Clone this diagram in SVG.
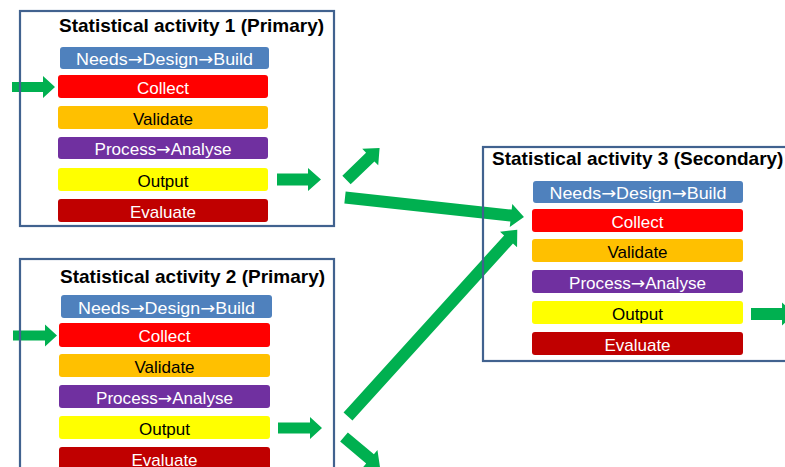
<svg xmlns="http://www.w3.org/2000/svg" width="785" height="467" viewBox="0 0 785 467">
<style>
.frame{fill:none;stroke:#41628f;stroke-width:2.2}
.title{font-family:"Liberation Sans",Arial,sans-serif;font-weight:bold;font-size:19px;fill:#000}
.lbl{font-family:"Liberation Sans",Arial,sans-serif;font-size:17px;text-anchor:middle}
.ar{font-family:"DejaVu Sans",sans-serif;font-size:17px}
.w{fill:#fff}
.k{fill:#000}
.needs{fill:#4f81bd}
.collect{fill:#ff0000}
.validate{fill:#ffc000}
.process{fill:#7030a0}
.output{fill:#ffff00}
.evaluate{fill:#c00000}
.arrow{fill:#00b050}
</style>
<rect width="785" height="467" fill="#fff"/>
<g id="connectors">
  <polygon class="arrow" transform="translate(12,87)" points="0,-5 31,-5 31,-11 43,0 31,11 31,5 0,5"/>
  <polygon class="arrow" transform="translate(13,335.5)" points="0,-5 32,-5 32,-11 44,0 32,11 32,5 0,5"/>
  <polygon class="arrow" transform="translate(277,179.5)" points="0,-6 31,-6 31,-11.5 44,0 31,11.5 31,6 0,6"/>
  <polygon class="arrow" transform="translate(278,428)" points="0,-5.5 32,-5.5 32,-11 44,0 32,11 32,5.5 0,5.5"/>
  <polygon class="arrow" transform="translate(751,314)" points="0,-6 31,-6 31,-11.5 44,0 31,11.5 31,6 0,6"/>
  <polygon class="arrow" transform="translate(346.5,180) rotate(-44)" points="0,-6 33,-6 33,-11.5 46,0 33,11.5 33,6 0,6"/>
  <polygon class="arrow" transform="translate(345,197.5) rotate(6.2)" points="0,-6 167,-6 167,-11.5 180,0 167,11.5 167,6 0,6"/>
  <polygon class="arrow" transform="translate(348,416.5) rotate(-47.8)" points="0,-6 239,-6 239,-11.5 252,0 239,11.5 239,6 0,6"/>
  <polygon class="arrow" transform="translate(344,437) rotate(40)" points="0,-6 34,-6 34,-11.5 47,0 34,11.5 34,6 0,6"/>
</g>
<g id="activity1">
  <rect class="frame" x="20" y="11" width="314" height="215"/>
  <text class="title" x="59" y="32">Statistical activity 1 (Primary)</text>
  <rect class="needs" x="60" y="47" width="209" height="22" rx="3"/>
  <text class="lbl w" x="164.5" y="65" textLength="177" lengthAdjust="spacingAndGlyphs">Needs<tspan class="ar">→</tspan>Design<tspan class="ar">→</tspan>Build</text>
  <rect class="collect" x="58" y="75" width="210" height="23" rx="3"/>
  <text class="lbl w" x="163" y="94">Collect</text>
  <rect class="validate" x="58" y="106" width="210" height="23" rx="3"/>
  <text class="lbl k" x="163" y="124.5">Validate</text>
  <rect class="process" x="58" y="137" width="210" height="22" rx="3"/>
  <text class="lbl w" x="163" y="155" textLength="137" lengthAdjust="spacingAndGlyphs">Process<tspan class="ar">→</tspan>Analyse</text>
  <rect class="output" x="58" y="168" width="210" height="23" rx="3"/>
  <text class="lbl k" x="163" y="186.5">Output</text>
  <rect class="evaluate" x="58" y="199" width="210" height="23" rx="3"/>
  <text class="lbl w" x="163" y="217.5">Evaluate</text>
</g>
<g id="activity2">
  <rect class="frame" x="20" y="259" width="314" height="240"/>
  <text class="title" x="60" y="283">Statistical activity 2 (Primary)</text>
  <rect class="needs" x="61" y="295" width="211" height="23" rx="3"/>
  <text class="lbl w" x="166.5" y="313.5" textLength="177" lengthAdjust="spacingAndGlyphs">Needs<tspan class="ar">→</tspan>Design<tspan class="ar">→</tspan>Build</text>
  <rect class="collect" x="59" y="323" width="211" height="24" rx="3"/>
  <text class="lbl w" x="164.5" y="342">Collect</text>
  <rect class="validate" x="59" y="354" width="211" height="23" rx="3"/>
  <text class="lbl k" x="164.5" y="372.5">Validate</text>
  <rect class="process" x="59" y="385" width="211" height="23" rx="3"/>
  <text class="lbl w" x="164.5" y="403.5" textLength="137" lengthAdjust="spacingAndGlyphs">Process<tspan class="ar">→</tspan>Analyse</text>
  <rect class="output" x="59" y="416" width="211" height="23" rx="3"/>
  <text class="lbl k" x="164.5" y="434.5">Output</text>
  <rect class="evaluate" x="59" y="447" width="211" height="24" rx="3"/>
  <text class="lbl w" x="164.5" y="465.5">Evaluate</text>
</g>
<g id="activity3">
  <rect class="frame" x="483" y="147" width="330" height="214"/>
  <text class="title" x="492" y="165">Statistical activity 3 (Secondary)</text>
  <rect class="needs" x="533" y="181" width="210" height="22" rx="3"/>
  <text class="lbl w" x="638" y="199" textLength="177" lengthAdjust="spacingAndGlyphs">Needs<tspan class="ar">→</tspan>Design<tspan class="ar">→</tspan>Build</text>
  <rect class="collect" x="532" y="209" width="211" height="23" rx="3"/>
  <text class="lbl w" x="637.5" y="227.5">Collect</text>
  <rect class="validate" x="532" y="239" width="211" height="23" rx="3"/>
  <text class="lbl k" x="637.5" y="257.5">Validate</text>
  <rect class="process" x="532" y="270" width="211" height="23" rx="3"/>
  <text class="lbl w" x="637.5" y="288.5" textLength="137" lengthAdjust="spacingAndGlyphs">Process<tspan class="ar">→</tspan>Analyse</text>
  <rect class="output" x="532" y="301" width="211" height="23" rx="3"/>
  <text class="lbl k" x="637.5" y="319.5">Output</text>
  <rect class="evaluate" x="532" y="332" width="211" height="23" rx="3"/>
  <text class="lbl w" x="637.5" y="350.5">Evaluate</text>
</g>
</svg>
